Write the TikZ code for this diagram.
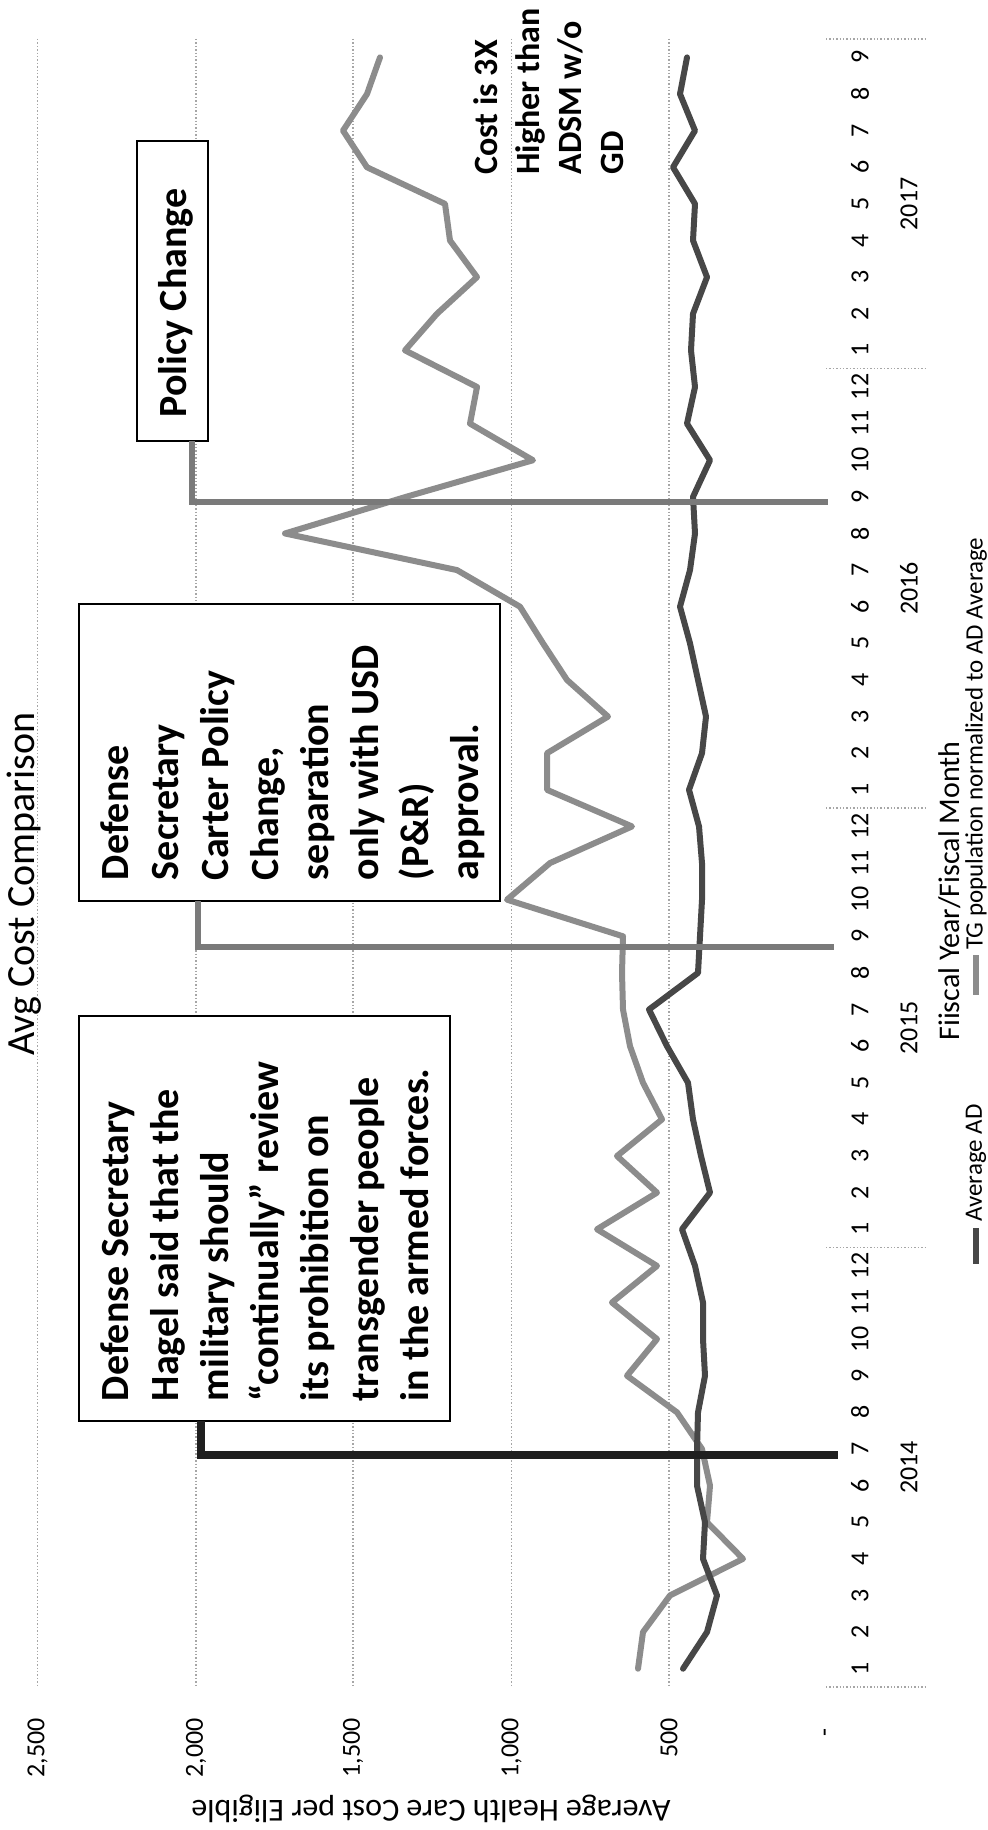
\documentclass[tikz,border=0pt]{standalone}
\usepackage{fontspec}
\setmainfont{Carlito}
\usetikzlibrary{fit,calc}
\begin{document}
\begin{tikzpicture}[x=0.5pt,y=-0.5pt,
  gridln/.style={draw=black!35, line width=0.7pt, densely dotted},
  adline/.style={draw=black!72, line width=3pt, line join=round, line cap=round},
  tgline/.style={draw=black!45, line width=3pt, line join=round, line cap=round},
  darkconn/.style={draw=black!88, line width=3.6pt},
  lightconn/.style={draw=black!52, line width=3.4pt},
  annobox/.style={draw=black, line width=1pt, fill=white, inner sep=0pt, outer sep=0pt},
  annotxt/.style={font=\bfseries\fontsize{20}{25}\selectfont, rotate=90, align=left, inner sep=0pt, outer sep=0pt, anchor=north west},
  axlab/.style={font=\fontsize{13}{15}\selectfont, rotate=90, inner sep=0pt},
  legtxt/.style={font=\fontsize{12.5}{15}\selectfont, rotate=90, anchor=west, inner sep=0pt},
]
\useasboundingbox (0,0) rectangle (987,1830);
\fill[white] (0,0) rectangle (987,1830);

% value gridlines
\foreach \v in {37.7,196,353,511.7,669} { \draw[gridln] (\v,39) -- (\v,1687); }
\foreach \v/\t/\n in {37.7/{2,500}/2500,196/{2,000}/2000,353/{1,500}/1500,511.7/{1,000}/1000,669/{500}/500}
  { \node[axlab, anchor=east] (yl\n) at (\v,1718) {\t}; }
\node[axlab, anchor=east] (yl0) at (828,1728) {-};

% year separators
\foreach \s in {1687,1247.6,808.1,368.7,39.1} { \draw[gridln] (826,\s) -- (927,\s); }

% month and year labels
\foreach \yr/\n/\base in {2014/12/0,2015/12/12,2016/12/24,2017/9/36} {
  \foreach \m in {1,...,\n} {
    \node[axlab] (m\yr-\m) at (860,{1668.69-36.62*(\base+\m-1)}) {\m};
  }
  \node[axlab] (yr\yr) at (909,{1687-36.62*(\base+\n/2)}) {\yr};
}

% data series
\draw[tgline] (638,1668.69) \foreach \x [count=\i] in {643,670,743,707,710,702,677,627,657,612,657,597,657,617,662,643,630,623,622,623,507,550,632,547,547,608,567,543,520,457,285,406,533,470,477,405,437,477,450,445,367,343,367,380} { -- (\x,{1668.69-36.62*\i}) };
\draw[adline] (683,1668.69) \foreach \x [count=\i] in {707,717,703,705,697,697,698,705,703,703,695,682,710,701,693,688,667,649,698,700,702,702,699,689,702,706,698,690,680,690,695,693,710,687,695,691,693,707,693,695,673,695,680,687} { -- (\x,{1668.69-36.62*\i}) };

% annotation boxes
\node[annobox, fit={(79,1016) (450,1421)}] (hagel) {};
\node[annobox, fit={(79,604) (500,901)}] (carter) {};
\node[annobox, fit={(137,141) (208,441)}] (policy) {};

% connectors
\coordinate (hgTurn) at (201,1455);
\coordinate (hgEnd) at (838,1455);
\coordinate (caTurn) at (198,947);
\coordinate (caEnd) at (834,947);
\coordinate (pcTurn) at (192,502);
\coordinate (pcEnd) at (828,502);
\draw[darkconn] (hagel.south -| hgTurn) -- (hgTurn) -- (hgEnd);
\draw[lightconn] (carter.south -| caTurn) -- (caTurn) -- (caEnd);
\draw[lightconn] (policy.south -| pcTurn) -- (pcTurn) -- (pcEnd);

% annotation texts
\node[annotxt] (hageltxt) at (88,1401) {\rule{0pt}{20pt}Defense Secretary\\ Hagel said that the\\ military should\\ “continually” review\\ its prohibition on\\ transgender people\\ in the armed forces.};
\node[annotxt] (cartertxt) at (88,880) {\rule{0pt}{20pt}Defense\\ Secretary\\ Carter Policy\\ Change,\\ separation\\ only with USD\\ (P\&R)\\ approval.};
\node[font=\bfseries\fontsize{20}{25}\selectfont, rotate=90, anchor=base west, inner sep=0pt] (policytxt) at (186,418) {Policy Change};
\node[font=\bfseries\fontsize{17}{21}\selectfont, rotate=90, align=left, anchor=north west, inner sep=0pt] (costtxt) at (463,175) {\rule{0pt}{17pt}Cost is 3X\\ Higher than\\ ADSM w/o\\ GD};

% titles
\node[font=\fontsize{20}{24}\selectfont, rotate=90] (title) at (24,884) {Avg Cost Comparison};
\node[font=\fontsize{16}{19}\selectfont, rotate=180] (ytitle) at (431,1809) {Average Health Care Cost per Eligible};
\node[font=\fontsize{15}{18}\selectfont, rotate=90] (xtitle) at (950,891) {Fiiscal Year/Fiscal Month};

% legend
\draw[adline, line cap=butt] (976,1228) -- (976,1264);
\node[legtxt] (legad) at (976,1222) {Average AD};
\draw[tgline, line cap=butt] (976,955) -- (976,995);
\node[legtxt] (legtg) at (976,950) {TG population normalized to AD Average};
\end{tikzpicture}
\end{document}
